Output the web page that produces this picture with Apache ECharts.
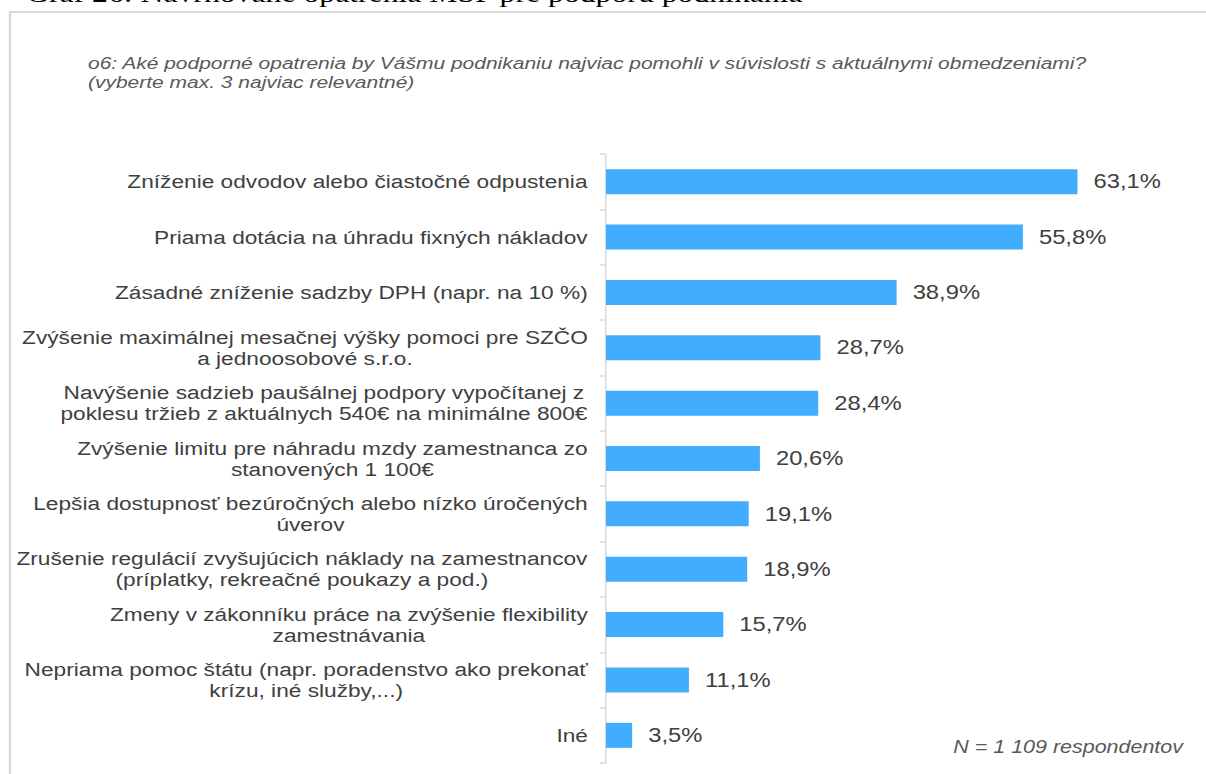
<!DOCTYPE html>
<html>
<head>
<meta charset="utf-8">
<script src="https://cdn.jsdelivr.net/npm/echarts@6/dist/echarts.min.js"></script>
<style>
html,body{margin:0;padding:0;background:#fff;overflow:hidden;}
#chart{width:988.5px;height:774px;transform:scaleX(1.22);transform-origin:0 0;}
</style>
</head>
<body>
<div id="chart"></div>
<script>
var categories = [
  'Zníženie odvodov alebo čiastočné odpustenia',
  'Priama dotácia na úhradu fixných nákladov',
  'Zásadné zníženie sadzby DPH (napr. na 10 %)',
  'Zvýšenie maximálnej mesačnej výšky pomoci pre SZČO\na jednoosobové s.r.o.',
  'Navýšenie sadzieb paušálnej podpory vypočítanej z\npoklesu tržieb z aktuálnych 540€ na minimálne 800€',
  'Zvýšenie limitu pre náhradu mzdy zamestnanca zo\nstanovených 1 100€',
  'Lepšia dostupnosť bezúročných alebo nízko úročených\núverov',
  'Zrušenie regulácií zvyšujúcich náklady na zamestnancov\n(príplatky, rekreačné poukazy a pod.)',
  'Zmeny v zákonníku práce na zvýšenie flexibility\nzamestnávania',
  'Nepriama pomoc štátu (napr. poradenstvo ako prekonať\nkrízu, iné služby,...)',
  'Iné'
];
var values = [63.1, 55.8, 38.9, 28.7, 28.4, 20.6, 19.1, 18.9, 15.7, 11.1, 3.5];
var headingText = 'Graf 26: Navrhované opatrenia MSP pre podporu podnikania';
var questionText = 'o6: Aké podporné opatrenia by Vášmu podnikaniu najviac pomohli v súvislosti s aktuálnymi obmedzeniami?\n(vyberte max. 3 najviac relevantné)';
var noteText = 'N = 1 109 respondentov';

// the reference picture is stretched horizontally; the page reproduces that with a CSS scaleX
var S = 1.22;
var CAT_FONT = 18.6;
var FONT_FAMILY = '"Liberation Sans", Arial, sans-serif';

// measure lines to center them within each label block
var cv = document.createElement('canvas').getContext('2d');
cv.font = CAT_FONT + 'px ' + FONT_FAMILY;
var rich = {};
categories.forEach(function (c, i) {
  var w = 0;
  c.split('\n').forEach(function (l) { w = Math.max(w, cv.measureText(l).width); });
  rich['c' + i] = { width: Math.ceil(w), align: 'center', fontSize: CAT_FONT, lineHeight: 21, color: '#404040', fontFamily: FONT_FAMILY };
});

var chart = echarts.init(document.getElementById('chart'), null, { renderer: 'svg' });
chart.setOption({
  animation: false,
  backgroundColor: '#ffffff',
  grid: { left: 606 / S, top: 154, width: 523 / S, height: 609, containLabel: false },
  xAxis: {
    type: 'value', min: 0, max: 70,
    show: false
  },
  yAxis: {
    type: 'category', inverse: true, data: categories,
    axisLine: { show: true, lineStyle: { color: '#d9d9d9', width: 1.25 } },
    axisTick: { show: true, length: 6 / S, lineStyle: { color: '#d9d9d9', width: 1.5 } },
    axisLabel: {
      margin: 18 / S,
      formatter: function (v, i) {
        return v.split('\n').map(function (l) { return '{c' + i + '|' + l + '}'; }).join('\n');
      },
      rich: rich
    },
    splitLine: { show: false }
  },
  series: [{
    type: 'bar', data: values, barWidth: 25,
    itemStyle: { color: '#42acff' },
    label: {
      show: true, position: 'right', distance: 16 / S,
      fontSize: 19.5, color: '#404040', fontFamily: FONT_FAMILY,
      formatter: function (p) { return String(p.value).replace('.', ',') + '%'; }
    }
  }],
  graphic: [
    { type: 'rect', shape: { x: 10 / S, y: 12, width: 1210 / S, height: 800 }, style: { fill: 'none', stroke: '#d9d9d9', lineWidth: 2 }, silent: true },
    { type: 'text', x: 26 / S, y: 6, style: { text: headingText, font: '26px "Liberation Serif", "Times New Roman", serif', fill: '#000', verticalAlign: 'bottom' } },
    { type: 'text', x: 88 / S, y: 53, style: { text: questionText, fontSize: 17.2, lineHeight: 19.5, fontStyle: 'italic', fontFamily: FONT_FAMILY, fill: '#595959' } },
    { type: 'text', x: 1183 / S, y: 747, style: { text: noteText, fontSize: 17.6, fontStyle: 'italic', fontFamily: FONT_FAMILY, fill: '#595959', align: 'right', verticalAlign: 'middle' } }
  ]
});
</script>
</body>
</html>
